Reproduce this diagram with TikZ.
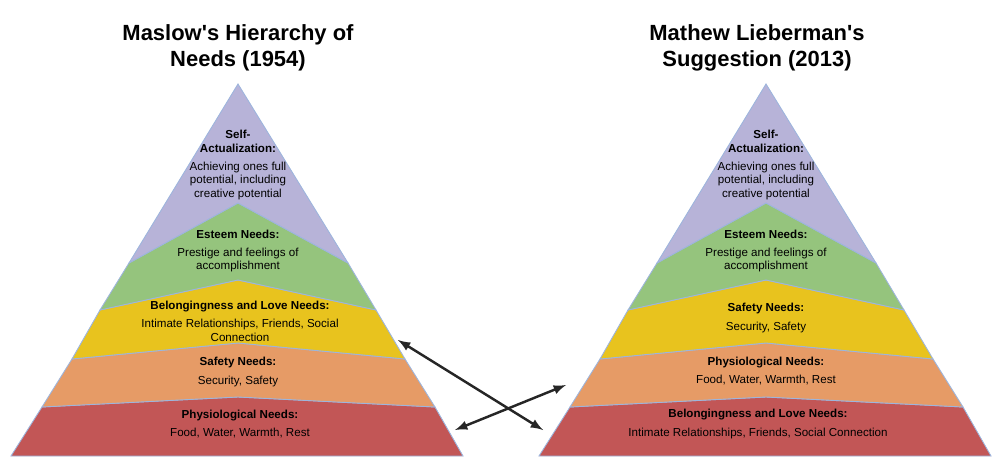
\documentclass[tikz,border=0pt]{standalone}
\usepackage{fontspec}
\setmainfont{Liberation Sans}
\usetikzlibrary{positioning}
\definecolor{selfc}{HTML}{B7B3D8}
\definecolor{esteemc}{HTML}{95C47D}
\definecolor{lovec}{HTML}{E8C31E}
\definecolor{safec}{HTML}{E69B66}
\definecolor{physc}{HTML}{C25656}
\definecolor{edgec}{HTML}{9DB5DD}
\tikzset{
  band/.style={draw=edgec, line width=0.5pt},
  need/.style={align=center, font=\fontsize{6.6}{7.6}\selectfont, inner sep=0pt},
  heading/.style={align=center, font=\fontsize{12.5}{15}\selectfont\bfseries, inner sep=0pt},
  swap/.style={<->, >=latex, line width=1.4pt, black!85}
}
% bands of one pyramid, apex at x=#1 (pixels)
\newcommand\drawbands[1]{
  \begin{scope}[xshift=#1*0.02cm-238*0.02cm]
    \fill[physc, band] (11,456) -- (42,407) -- (238,397) -- (435,407) -- (463,456) -- cycle;
    \fill[safec, band] (42,407) -- (72,359) -- (238,343) -- (405,359) -- (435,407) -- (238,397) -- cycle;
    \fill[lovec, band] (72,359) -- (100,310) -- (238,280) -- (376,310) -- (405,359) -- (238,343) -- cycle;
    \fill[esteemc, band] (100,310) -- (129,263) -- (238,203) -- (348,263) -- (376,310) -- (238,280) -- cycle;
    \fill[selfc, band] (129,263) -- (238,84) -- (348,263) -- (238,203) -- cycle;
  \end{scope}
}
\begin{document}
\begin{tikzpicture}[x=0.02cm, y=-0.02cm]
\useasboundingbox (0,0) rectangle (1000,476);
\drawbands{238}
\drawbands{766}

% titles
\node (titleL) [heading] at (238,48) {Maslow\textquotesingle s Hierarchy of\\Needs (1954)};
\node (titleR) [heading] at (757,48) {Mathew Lieberman\textquotesingle s\\Suggestion (2013)};

% left pyramid
\node (selfL) [need] at (238,165) {\textbf{Self-}\\\textbf{Actualization:}\\[3pt]Achieving ones full\\potential, including\\creative potential};
\node (esteemL) [need] at (238,251) {\textbf{Esteem Needs:}\\[3pt]Prestige and feelings of\\accomplishment};
\node (loveL) [need] at (240,321) {\textbf{Belongingness and Love Needs:}\\[3pt]Intimate Relationships, Friends, Social\\Connection};
\node (safeL) [need] at (238,372) {\textbf{Safety Needs:}\\[3pt]Security, Safety};
\node (physL) [need] at (240,424) {\textbf{Physiological Needs:}\\[3pt]Food, Water, Warmth, Rest};

% right pyramid
\node (selfR) [need] at (766,165) {\textbf{Self-}\\\textbf{Actualization:}\\[3pt]Achieving ones full\\potential, including\\creative potential};
\node (esteemR) [need] at (766,251) {\textbf{Esteem Needs:}\\[3pt]Prestige and feelings of\\accomplishment};
\node (safeR) [need] at (766,318) {\textbf{Safety Needs:}\\[3pt]Security, Safety};
\node (physR) [need] at (766,371) {\textbf{Physiological Needs:}\\[3pt]Food, Water, Warmth, Rest};
\node (loveR) [need] at (758,424) {\textbf{Belongingness and Love Needs:}\\[3pt]Intimate Relationships, Friends, Social Connection};

% moved levels
\coordinate (loveOut) at (398,340);
\coordinate (loveIn) at (543,430);
\coordinate (physOut) at (455,430);
\coordinate (physIn) at (566,385);
\draw[swap] (loveOut) -- (loveIn);
\draw[swap] (physOut) -- (physIn);
\end{tikzpicture}
\end{document}
